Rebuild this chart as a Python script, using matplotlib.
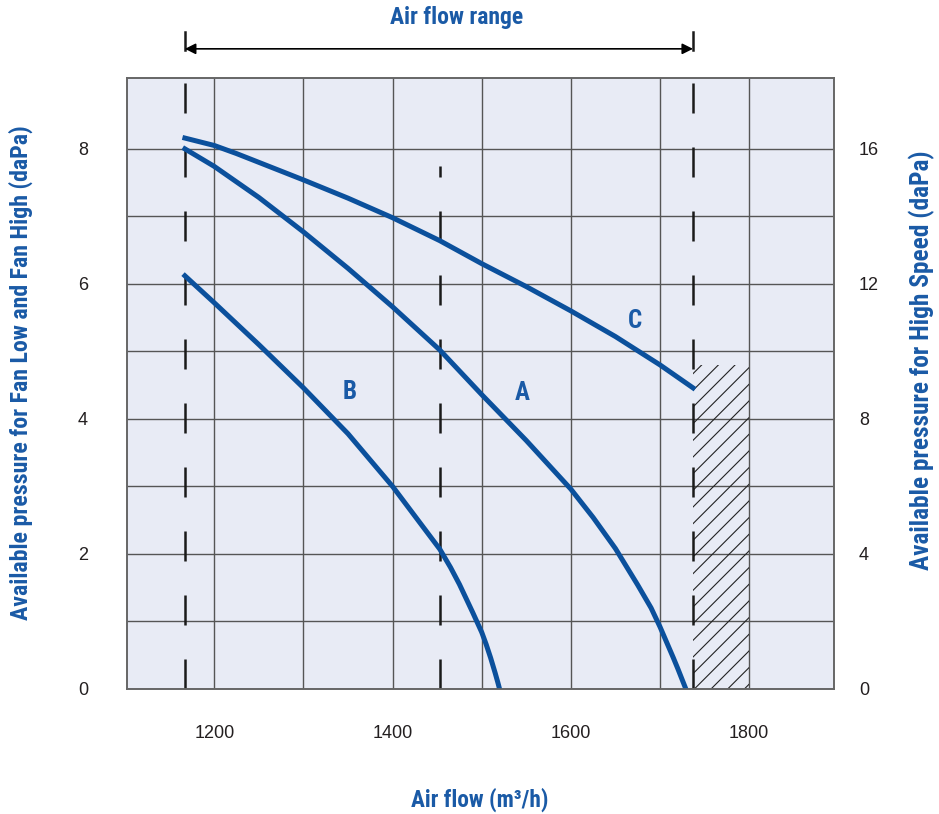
import matplotlib
matplotlib.use('Agg')
import matplotlib.pyplot as plt
from matplotlib.patches import Rectangle
import matplotlib.transforms as mtransforms
from matplotlib import font_manager as fm

# values
curve_a_x = [1167, 1200, 1250, 1300, 1350, 1400, 1453, 1500, 1550, 1600, 1625, 1650, 1675,
             1690, 1700, 1715, 1720, 1729]
curve_a_y = [8.0, 7.74, 7.28, 6.77, 6.23, 5.66, 5.02, 4.36, 3.68, 2.96, 2.54, 2.08, 1.54,
             1.2, 0.92, 0.46, 0.3, 0.0]
curve_b_x = [1167, 1200, 1250, 1300, 1350, 1400, 1453, 1465, 1475, 1490, 1500, 1505, 1510,
             1515, 1518, 1520]
curve_b_y = [6.12, 5.72, 5.1, 4.46, 3.78, 3.0, 2.07, 1.8, 1.55, 1.13, 0.84, 0.66, 0.46,
             0.24, 0.1, 0.0]
curve_c_x = [1167, 1200, 1225, 1250, 1300, 1350, 1400, 1453, 1500, 1550, 1600, 1650, 1700, 1737]
curve_c_y = [8.16, 8.05, 7.93, 7.8, 7.54, 7.27, 6.98, 6.64, 6.3, 5.96, 5.6, 5.22, 4.8, 4.46]

range_lo, range_hi = 1167, 1737
mid_line_x, mid_line_top = 1453, 7.75
hatch_x0, hatch_x1, hatch_top = 1737, 1800, 4.8

x_ticks = [1200, 1400, 1600, 1800]
x_grid = [1200, 1300, 1400, 1500, 1600, 1700, 1800]
y_left_ticks = [0, 2, 4, 6, 8]
y_grid_minor = [1, 3, 5, 7]
y_right_ticks = [0, 4, 8, 12, 16]

labels = {'A': (1546, 4.39), 'B': (1352, 4.4), 'C': (1672, 5.45)}

blue = '#0b509c'
txt_blue = '#1a5aa6'

# pick a condensed face for the bold blue labels if one is installed
names = {f.name for f in fm.fontManager.ttflist}
cond = [n for n in ['Roboto Condensed', 'Liberation Sans Narrow', 'Open Sans Condensed',
                    'DejaVu Sans Condensed'] if n in names]
cond += sorted(n for n in names if 'Condensed' in n or 'Narrow' in n)
bold_font = [cond[0] if cond else 'Roboto', 'DejaVu Sans']

plt.rcParams['font.family'] = ['Liberation Sans', 'DejaVu Sans']
plt.rcParams['hatch.linewidth'] = 0.8

fig = plt.figure(figsize=(9.39, 8.14), dpi=100)
ax = fig.add_axes([0.1352, 0.1536, 0.888 - 0.1352, 0.9042 - 0.1536])
ax.set_facecolor('#e8ebf5')
ax.set_xlim(1102, 1895)
ax.set_ylim(0, 9.05)

ax.set_xticks(x_ticks)
ax.set_xticks(x_grid, minor=True)
ax.set_yticks(y_left_ticks)
ax.set_yticks(y_grid_minor, minor=True)
ax.grid(True, which='both', color='#555555', lw=1.0, zorder=0)
ax.set_axisbelow(True)
ax.tick_params(which='both', length=0)
ax.tick_params(axis='x', pad=26, labelsize=13, labelcolor='#231f20')
ax.tick_params(axis='y', pad=28, labelsize=13, labelcolor='#231f20')
for s in ax.spines.values():
    s.set_color('#666666')
    s.set_linewidth(1.2)

# hatched zone outside the range
ax.add_patch(Rectangle((hatch_x0, 0), hatch_x1 - hatch_x0, hatch_top,
                       facecolor='none', edgecolor='#222222', lw=0, hatch='//', zorder=1))

# dashed range limits
dash = (0, (12, 13.6))
for xv, top in [(range_lo, 9.05), (range_hi, 9.05), (mid_line_x, mid_line_top)]:
    ax.plot([xv, xv], [0, top], color='#1a1a1a', lw=1.8, ls=dash, zorder=2)

ax.plot(curve_a_x, curve_a_y, color=blue, lw=3.6, zorder=3, solid_joinstyle='round')
ax.plot(curve_b_x, curve_b_y, color=blue, lw=3.6, zorder=3, solid_joinstyle='round')
ax.plot(curve_c_x, curve_c_y, color=blue, lw=3.6, zorder=3, solid_joinstyle='round')

for name, (lx, ly) in labels.items():
    ax.text(lx, ly, name, color=txt_blue, fontsize=18, fontweight='bold',
            family=bold_font, ha='center', va='center')

ax2 = ax.twinx()
ax2.set_ylim(0, 18.1)
ax2.set_yticks(y_right_ticks)
ax2.tick_params(length=0, pad=18, labelsize=13, labelcolor='#231f20')
for s in ax2.spines.values():
    s.set_color('#666666')
    s.set_linewidth(1.2)

# "Air flow range" arrow above the plot
tr = mtransforms.blended_transform_factory(ax.transData, fig.transFigure)
ax.annotate('', xy=(range_lo, 0.94), xytext=(range_hi, 0.94), xycoords=tr, textcoords=tr,
            arrowprops=dict(arrowstyle='<|-|>', color='black', lw=1.2, mutation_scale=16,
                            shrinkA=0, shrinkB=0), annotation_clip=False)
for xv in [range_lo, range_hi]:
    ax.plot([xv, xv], [0.9386, 0.9607], transform=tr, color='#1a1a1a', lw=1.8, clip_on=False)

kw = dict(color=txt_blue, fontsize=16, fontweight='bold', family=bold_font,
          ha='center', va='center')
t_title = fig.text(0.4867, 0.978, 'Air flow range', **kw)
t_x = fig.text(0.511, 0.018, 'Air flow (m³/h)', **kw)
t_l = fig.text(0.022, 0.542, 'Available pressure for Fan Low and Fan High (daPa)',
               rotation=90, **kw)
t_r = fig.text(0.982, 0.558, 'Available pressure for High Speed (daPa)', rotation=90, **kw)

# size the labels to the widths they have in the original
r = fig.canvas.get_renderer()
for t, target, vert in [(t_title, 133, False), (t_x, 137, False), (t_l, 495, True), (t_r, 420, True)]:
    bb = t.get_window_extent(r)
    cur = bb.height if vert else bb.width
    t.set_fontsize(t.get_fontsize() * target / cur)

fig.savefig('out.png', dpi=100)
